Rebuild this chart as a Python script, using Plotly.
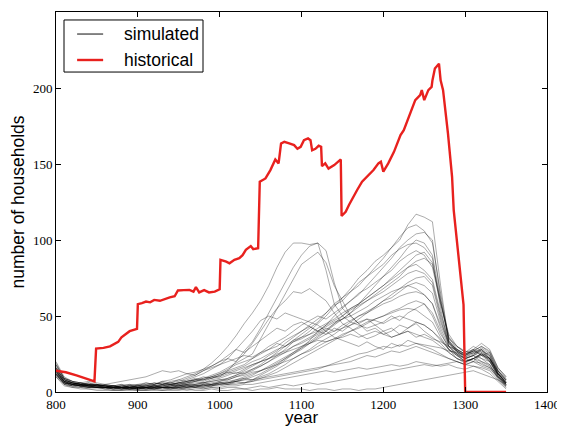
import plotly.graph_objects as go

# ---------------- data ----------------
sim_years = list(range(800, 1351, 10))

sim_01 = [16,8,6,5,6,4,5,4,3,4,5,4,6,5,7,8,10,12,15,19,24,30,37,45,52,60,70,82,92,98,98,97,98,80,58,50,46,44,42,44,40,42,38,40,36,38,35,33,30,28,25,27,24,22,14,8]
sim_02 = [14,7,5,6,4,5,3,4,5,3,4,6,5,7,6,8,7,9,8,10,10,14,20,27,33,42,52,62,72,82,90,96,98,93,72,55,50,45,48,44,46,50,47,52,55,58,50,38,30,27,24,26,22,20,12,6]
sim_03 = [18,9,7,6,5,5,4,4,3,3,4,3,4,5,5,6,6,8,9,11,13,16,19,22,25,35,45,55,65,75,84,88,92,85,70,60,50,45,40,42,38,40,44,42,46,44,40,35,28,25,22,24,20,18,10,5]
sim_04 = [12,6,5,4,5,4,4,3,4,5,4,5,6,5,6,7,9,11,14,17,20,22,20,25,32,40,48,55,60,66,65,68,64,60,52,45,42,38,35,37,40,36,38,42,45,40,36,32,26,22,20,22,18,16,9,4]
sim_05 = [15,8,6,5,4,5,4,3,3,4,3,4,5,6,5,6,8,10,12,15,18,22,28,34,40,47,50,48,52,50,48,46,44,40,36,34,32,30,33,30,28,32,30,34,32,30,28,25,22,20,18,20,17,15,10,6]
sim_06 = [13,7,5,4,4,3,3,2,3,2,3,3,4,3,4,5,4,5,6,5,7,8,10,12,14,17,20,24,28,33,36,40,45,50,56,62,68,75,80,86,90,95,100,110,117,115,112,70,32,28,25,28,24,26,14,7]
sim_07 = [16,8,6,5,5,4,3,3,4,3,2,3,3,4,5,4,6,7,6,8,9,11,13,12,15,18,22,26,30,34,38,42,46,52,57,60,66,70,76,82,88,95,102,108,110,106,98,65,35,30,27,25,28,24,12,6]
sim_08 = [11,6,4,5,3,4,3,2,2,3,2,2,3,3,2,3,4,3,5,4,6,5,7,9,8,11,14,17,21,25,29,34,40,44,50,55,60,64,70,76,82,88,95,100,104,105,100,62,33,26,22,24,28,22,13,5]
sim_09 = [14,7,6,4,5,4,4,3,3,2,3,4,3,5,4,6,7,8,7,9,11,13,12,15,18,20,24,27,32,36,40,44,48,52,58,62,66,72,76,80,84,90,94,97,98,95,88,55,30,25,20,22,25,20,11,4]
sim_10 = [20,10,7,6,5,4,5,4,3,4,3,3,4,4,5,6,5,7,8,10,12,14,16,18,22,26,30,33,36,40,44,47,50,48,52,56,60,65,68,72,76,80,86,90,93,90,82,58,38,30,26,30,27,24,14,8]
sim_11 = [12,6,5,4,4,3,3,3,2,3,3,2,2,3,3,4,3,4,4,5,5,6,8,9,11,14,16,19,22,26,30,33,37,40,44,48,52,56,60,64,68,72,76,82,86,88,84,60,36,28,24,27,30,26,15,9]
sim_12 = [17,9,6,5,6,5,4,4,5,4,5,6,5,7,8,10,12,11,14,16,18,20,22,24,23,26,28,32,30,34,36,38,42,45,48,52,55,58,62,66,70,74,78,82,84,80,74,52,34,27,23,25,29,25,13,6]
sim_13 = [13,7,5,6,4,4,3,4,3,3,2,3,4,3,4,5,6,7,9,10,12,15,18,20,22,25,28,30,34,37,40,43,40,44,47,50,54,57,60,63,66,70,74,78,80,78,72,50,32,26,22,20,26,22,12,7]
sim_14 = [10,5,4,4,3,3,2,3,2,2,2,3,2,3,3,2,3,4,3,4,5,6,7,6,8,10,12,15,18,22,25,28,32,35,38,42,46,50,53,56,60,64,68,72,75,76,70,48,30,24,20,22,25,21,11,5]
sim_15 = [15,8,6,5,4,5,4,3,4,3,4,5,4,5,6,5,7,8,10,9,11,13,15,17,20,22,25,28,30,33,35,38,40,43,46,48,50,53,56,60,63,66,68,70,72,70,65,46,33,28,25,27,30,27,16,10]
sim_16 = [19,9,7,5,5,4,4,4,3,3,3,4,4,3,4,4,5,5,6,7,8,9,11,13,15,17,20,23,26,30,33,36,39,42,40,44,47,50,52,55,58,60,63,65,66,64,58,42,30,25,22,24,27,22,12,6]
sim_17 = [12,6,4,4,3,3,3,2,2,2,3,2,2,2,3,3,2,3,3,4,4,5,5,6,7,9,11,13,16,19,22,25,28,31,34,37,40,43,46,48,50,53,55,58,60,58,52,40,28,22,19,22,25,21,11,5]
sim_18 = [14,7,6,5,4,4,4,3,3,4,3,3,4,4,5,4,5,6,6,7,8,8,10,11,13,14,16,18,20,22,25,27,30,33,35,38,40,42,45,48,50,52,54,55,54,50,46,36,28,24,20,22,24,20,10,4]
sim_19 = [11,6,5,4,4,3,3,3,3,2,2,3,3,2,2,3,3,4,4,5,6,7,8,10,12,14,17,20,23,26,29,32,35,38,40,42,44,46,48,47,45,48,50,48,46,44,40,34,28,24,22,24,22,18,9,3]
sim_20 = [16,8,6,5,5,5,4,4,4,5,4,4,5,6,5,6,7,8,8,9,10,12,14,16,18,20,22,24,26,28,30,32,34,33,35,36,38,36,38,40,38,36,38,40,38,36,34,30,26,22,20,22,20,17,10,5]
sim_21 = [13,7,5,4,3,3,3,2,2,2,2,2,3,3,3,3,4,3,4,4,5,5,6,6,7,8,9,10,11,12,13,14,15,17,19,21,23,25,26,28,30,29,31,30,32,31,30,29,27,26,24,28,26,22,14,8]
sim_22 = [12,5,3,3,2,2,2,1,1,2,1,1,2,1,2,2,1,2,2,3,2,3,3,2,3,4,3,4,5,4,5,6,5,6,7,8,9,10,11,12,13,14,15,16,17,18,17,18,19,20,18,20,19,16,12,8]
sim_23 = [10,4,3,2,2,1,1,1,1,1,1,1,1,1,1,1,2,1,1,2,1,1,2,2,1,2,2,3,2,2,2,1,2,2,1,2,2,1,2,2,3,4,5,6,7,8,9,10,11,12,13,14,12,10,8,5]
sim_24 = [18,9,7,6,7,6,5,6,7,8,9,10,12,14,13,14,12,13,15,17,20,24,28,26,30,34,38,42,40,44,46,43,40,38,42,40,44,48,52,56,60,62,66,70,68,64,58,44,32,27,23,26,28,23,12,6]
sim_25 = [15,7,5,5,4,4,3,3,3,3,4,3,3,4,3,4,5,4,5,6,7,9,11,14,17,20,22,25,27,30,32,35,38,41,45,50,55,58,62,66,70,75,80,85,90,92,85,58,36,30,26,28,32,28,16,10]
sim_26 = [13,6,5,4,4,3,3,3,2,3,3,3,2,3,3,4,4,5,4,5,6,6,7,8,10,12,15,18,22,25,28,32,36,40,45,48,52,58,64,70,76,82,88,95,100,98,90,60,34,27,24,27,25,22,12,6]
sim_27 = [11,5,4,3,3,3,2,2,3,2,3,3,2,3,3,3,4,4,5,5,6,6,7,8,8,9,10,11,12,13,14,15,16,17,18,19,20,22,24,23,25,27,26,28,30,28,26,24,22,20,18,17,16,14,8,3]
sim_28 = [14,6,5,4,4,3,3,3,3,3,2,2,3,3,2,2,3,3,2,3,3,4,4,5,5,6,7,8,9,10,11,12,13,14,13,14,15,16,15,16,17,18,17,18,20,19,18,17,18,16,15,17,15,12,7,2]

simulated_runs = [sim_01, sim_02, sim_03, sim_04, sim_05, sim_06, sim_07, sim_08, sim_09, sim_10,
                  sim_11, sim_12, sim_13, sim_14, sim_15, sim_16, sim_17, sim_18, sim_19, sim_20,
                  sim_21, sim_22, sim_23, sim_24, sim_25, sim_26, sim_27, sim_28]

hist_years = [800, 812, 825, 836, 847, 849, 858, 866, 874, 876, 880, 885, 890, 899, 900, 905, 910,
              915, 920, 927, 932, 939, 945, 949, 956, 963, 968, 971, 975, 981, 987, 994, 1000,
              1001, 1008, 1012, 1018, 1024, 1028, 1032, 1038, 1041, 1047, 1049, 1056, 1062, 1068,
              1072, 1075, 1079, 1085, 1091, 1095, 1099, 1103, 1108, 1111, 1113, 1117, 1121, 1124,
              1125, 1129, 1133, 1140, 1148, 1149, 1154, 1158, 1160, 1164, 1168, 1174, 1178, 1182,
              1188, 1194, 1197, 1200, 1206, 1213, 1217, 1221, 1225, 1229, 1235, 1239, 1245, 1247,
              1250, 1255, 1259, 1260, 1263, 1268, 1270, 1273, 1279, 1284, 1286, 1294, 1298, 1300,
              1350]
hist_values = [14, 13, 11, 9, 7, 28.5, 29, 30, 32, 33, 36, 38, 40, 41.6, 57.8, 58.5, 59.5,
               59, 60.6, 60, 61, 62.2, 63, 66.8, 67, 67.2, 66, 69, 65.5, 67, 65.5, 66, 67.6,
               86.9, 85.8, 84.7, 87, 88, 90, 93.5, 96, 94, 94.6, 138.4, 140.5, 146, 153,
               150.4, 163.5, 164.6, 163.5, 162.4, 160, 161.3, 165.7, 166.8, 165.7, 159, 160, 162, 161.3,
               148.6, 150.4, 147, 149.3, 153, 115.8, 118.6, 123, 125.2, 129.6, 132.9, 138.4, 140.5, 142.7,
               146, 150.4, 151.5, 145, 150.4, 158, 163.5, 169, 172.3, 177.8, 186.5, 192, 195.3, 198.6,
               192, 198.6, 200.7, 205, 212.8, 216, 205, 198.6, 170, 141.6, 119.7, 78, 57.4, 0,
               0]

x_ticks = [800, 900, 1000, 1100, 1200, 1300, 1400]
y_ticks = [0, 50, 100, 150, 200, 250]

SANS = "Liberation Sans, Arial, sans-serif"

# ---------------- figure ----------------
fig = go.Figure()

for run in simulated_runs:
    fig.add_trace(go.Scatter(
        x=sim_years, y=run, mode="lines",
        line=dict(color="rgba(0,0,0,0.33)", width=1),
        showlegend=False, hoverinfo="skip"))

fig.add_trace(go.Scatter(
    x=hist_years, y=hist_values, mode="lines",
    line=dict(color="#e8211e", width=2.4),
    showlegend=False, name="historical"))

# manual legend (matplotlib style)
fig.add_shape(type="rect", xref="paper", yref="paper",
              x0=0.0163, x1=0.2994, y0=0.842, y1=0.979,
              line=dict(color="black", width=1), fillcolor="white", layer="above")
fig.add_shape(type="line", xref="paper", yref="paper",
              x0=0.043, x1=0.096, y0=0.942, y1=0.942,
              line=dict(color="#444444", width=1.3), layer="above")
fig.add_shape(type="line", xref="paper", yref="paper",
              x0=0.043, x1=0.096, y0=0.8737, y1=0.8737,
              line=dict(color="#e8211e", width=2.4), layer="above")
fig.add_annotation(xref="paper", yref="paper", x=0.1344, y=0.942, text="simulated",
                   showarrow=False, xanchor="left", yanchor="middle",
                   font=dict(family=SANS, size=17.5, color="black"))
fig.add_annotation(xref="paper", yref="paper", x=0.1344, y=0.8737, text="historical",
                   showarrow=False, xanchor="left", yanchor="middle",
                   font=dict(family=SANS, size=17.5, color="black"))

# x-axis title placed as an annotation just below the tick labels
fig.add_annotation(xref="paper", yref="paper", x=0.5, y=-0.067, text="year",
                   showarrow=False, xanchor="center", yanchor="middle", borderpad=0,
                   font=dict(family=SANS, size=17, color="black"))

axis_common = dict(
    showline=True, linecolor="black", linewidth=1, mirror="ticks",
    ticks="inside", ticklen=5, tickcolor="black", tickwidth=1,
    showgrid=False, zeroline=False,
    tickfont=dict(family="Liberation Serif, DejaVu Serif, serif", size=13, color="black"),
)

# the page adds an 8px body margin, so the figure is sized to fit the 565x427 window
fig.update_layout(
    width=557, height=419,
    margin=dict(l=48, r=18, t=4, b=35),
    paper_bgcolor="white", plot_bgcolor="white",
    showlegend=False,
    xaxis=dict(range=[800, 1400], tickvals=x_ticks, ticktext=[str(v) for v in x_ticks],
               automargin=False, **axis_common),
    yaxis=dict(range=[0, 250], tickvals=y_ticks, ticktext=[str(v) for v in y_ticks],
               title=dict(text="number of households", standoff=4,
                          font=dict(family=SANS, size=17.5, color="black")),
               automargin=False, **axis_common),
)

fig.write_html("out.html")
